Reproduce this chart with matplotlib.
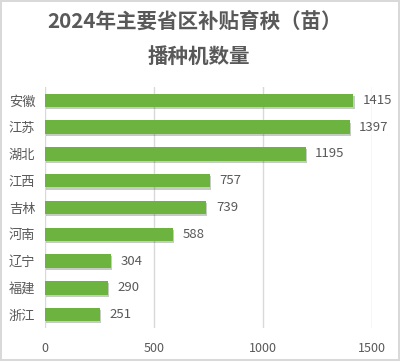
import matplotlib.pyplot as plt
import matplotlib.patheffects as pe

plt.rcParams['font.family'] = ['Noto Sans CJK SC', 'DejaVu Sans']

# 各省数据
provinces = ['安徽', '江苏', '湖北', '江西', '吉林', '河南', '辽宁', '福建', '浙江']
counts = [1415, 1397, 1195, 757, 739, 588, 304, 290, 251]
xticks = [0, 500, 1000, 1500]

text_color = '#595959'
bar_color = '#6DB33F'

fig = plt.figure(figsize=(4, 3.61), dpi=100)
fig.patch.set_edgecolor('#D9D9D9')
fig.patch.set_linewidth(1.5)
ax = fig.add_axes([0.1125, 0.0914, 0.8175, 0.6676])

y = range(len(provinces))
bars = ax.barh(y, counts, height=0.5, color=bar_color, zorder=3)
for b in bars:
    b.set_path_effects([pe.SimplePatchShadow(offset=(0.8, -1.5), alpha=0.25), pe.Normal()])

for i, v in enumerate(counts):
    ax.annotate(str(v), (v, i), xytext=(7, 0), textcoords='offset points',
                va='center', ha='left', fontsize=9.5, color=text_color)

ax.set_xlim(0, 1500)
ax.set_ylim(len(provinces) - 0.5, -0.5)
ax.set_yticks(list(y))
ax.set_yticklabels(provinces, fontsize=9.5, color=text_color)
ax.set_xticks(xticks)
ax.set_xticklabels([str(t) for t in xticks], fontsize=9, color=text_color)
ax.tick_params(length=0)
ax.tick_params(axis='x', pad=10)
ax.tick_params(axis='y', pad=7)
ax.grid(axis='x', color='#D9D9D9', linewidth=1, zorder=0)
for s in ax.spines.values():
    s.set_visible(False)

fig.text(0.4875, 0.942, '2024年主要省区补贴育秧（苗）', ha='center', va='center',
         fontsize=14.8, fontweight='bold', color=text_color)
fig.text(0.4975, 0.845, '播种机数量', ha='center', va='center',
         fontsize=14.8, fontweight='bold', color=text_color)

plt.savefig('out.png', dpi=100)
